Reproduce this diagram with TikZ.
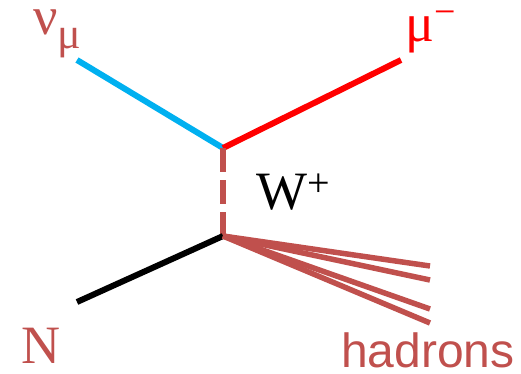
\documentclass[tikz,border=0pt]{standalone}
\usepackage{fontspec}
\setmainfont{Liberation Serif}
\newfontfamily\arialfont{Liberation Sans}
\definecolor{brick}{HTML}{C0504D}
\definecolor{skyc}{HTML}{00B0F0}
\begin{document}
\begin{tikzpicture}[x=1pt,y=-1pt,
  lbl/.style={inner sep=0pt,anchor=base west},
  prop/.style={line width=6pt},
  hadline/.style={line width=5.5pt,brick}]
\useasboundingbox (0,0) rectangle (521,373);
\coordinate (vtop) at (223,148);
\coordinate (vbot) at (223,236);
\coordinate (nu) at (77,60);
\coordinate (mu) at (401,60);
\coordinate (nin) at (77,302);
\coordinate (h1) at (430,266);
\coordinate (h2) at (430,280);
\coordinate (h3) at (430,309);
\coordinate (h4) at (430,323);
\draw[prop,skyc] (nu) -- (vtop);
\draw[prop,red] (vtop) -- (mu);
\draw[prop,brick,dash pattern=on 24pt off 8pt] (vtop) -- (vbot);
\draw[prop,black] (nin) -- (vbot);
\foreach \h in {h1,h2,h3,h4} \draw[hadline] (vbot) -- (\h);
\node[lbl,text=brick,font=\fontsize{54}{54}\selectfont] (nulbl) at (33,34) {ν\raisebox{-14pt}{\fontsize{44}{44}\selectfont μ}};
\node[lbl,text=red,font=\fontsize{54}{54}\selectfont] (mulbl) at (405,41) {μ\raisebox{17pt}{\fontsize{38}{38}\selectfont −}};
\node[lbl,text=black,font=\fontsize{54}{54}\selectfont] (wlbl) at (256,209) {W\raisebox{13pt}{\fontsize{40}{40}\selectfont +}};
\node[lbl,text=brick,font=\fontsize{54}{54}\selectfont] (nlbl) at (21,363) {N};
\node[lbl,text=brick,font=\arialfont\fontsize{48}{48}\selectfont] (hlbl) at (341,367) {hadrons};
\end{tikzpicture}
\end{document}
